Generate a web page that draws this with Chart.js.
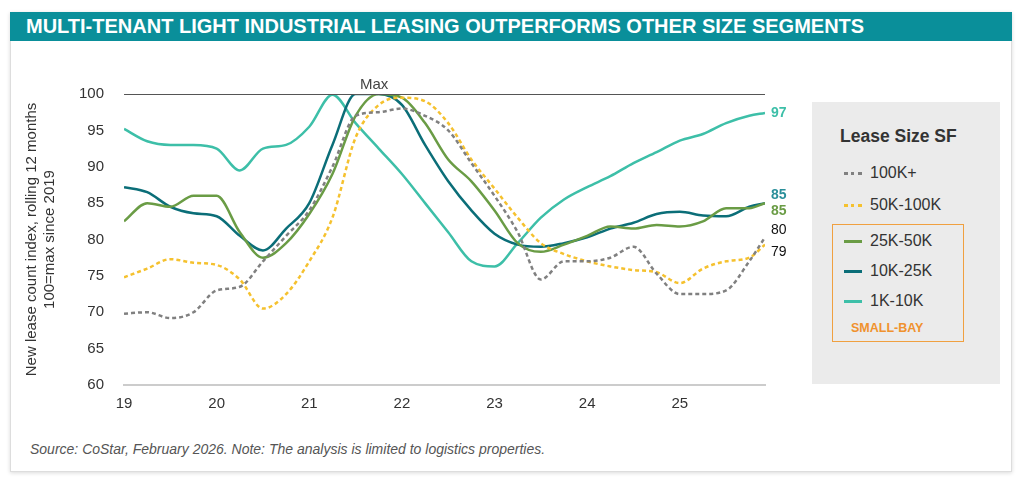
<!DOCTYPE html>
<html lang="en">
<head>
<meta charset="UTF-8">
<title>Multi-tenant leasing</title>
<script src="https://cdn.jsdelivr.net/npm/chart.js"></script>
<style>
    body { margin: 0; width: 1024px; height: 484px; background: #fff; font-family: "Liberation Sans", Arial, sans-serif; position: relative; overflow: hidden; }
    .card { position: absolute; left: 10px; top: 12px; width: 1000px; height: 458px; border: 1px solid #ddd; box-shadow: 0 1px 4px rgba(0,0,0,0.15); }
    .header { position: absolute; left: 10px; top: 12px; width: 1002px; height: 29px; background: #0a8f9a; color: #fff; font-weight: bold; font-size: 20px; line-height: 29px; padding-left: 16px; box-sizing: border-box; }
    .chartbox { position: absolute; left: 15px; top: 60px; width: 790px; height: 357px; }
    .legend { position: absolute; left: 812px; top: 102px; width: 188px; height: 282px; background: #ebebeb; }
    .legend h3 { margin: 0; position: absolute; left: 28px; top: 24px; font-size: 17.5px; font-weight: bold; color: #333; }
    .item { position: absolute; left: 32px; font-size: 16px; color: #333; display: flex; align-items: center; }
    .sw { width: 18px; height: 0; margin-right: 8px; }
    .bay { position: absolute; left: 20px; top: 122px; width: 130px; height: 116px; border: 1.5px solid #f0a040; }
    .bay span { position: absolute; left: 18px; bottom: 6px; color: #f0922e; font-weight: bold; font-size: 12.5px; }
    .source { position: absolute; left: 30px; top: 441px; font-size: 14px; font-style: italic; color: #555; }
</style>
</head>
<body>
<div class="card"></div>
<div class="header">MULTI-TENANT LIGHT INDUSTRIAL LEASING OUTPERFORMS OTHER SIZE SEGMENTS</div>
<div class="chartbox"><canvas id="c"></canvas></div>
<div class="legend">
    <h3>Lease Size SF</h3>
    <div class="item" style="top:62px"><span class="sw" style="border-top:3px dotted #808080"></span>100K+</div>
    <div class="item" style="top:94px"><span class="sw" style="border-top:3px dotted #f5c12e"></span>50K-100K</div>
    <div class="bay"><span>SMALL-BAY</span></div>
    <div class="item" style="top:130px"><span class="sw" style="border-top:3px solid #6a9c45"></span>25K-50K</div>
    <div class="item" style="top:160px"><span class="sw" style="border-top:3px solid #0b6e78"></span>10K-25K</div>
    <div class="item" style="top:190px"><span class="sw" style="border-top:3px solid #3dbfa8"></span>1K-10K</div>
</div>
<div class="source">Source: CoStar, February 2026. Note: The analysis is limited to logistics properties.</div>
<script>
const years = [19, 19.25, 19.5, 19.75, 20, 20.25, 20.5, 20.75, 21, 21.25, 21.5, 21.75, 22, 22.25, 22.5, 22.75, 23, 23.25, 23.5, 23.75, 24, 24.25, 24.5, 24.75, 25, 25.25, 25.5, 25.75, 25.92];
const k100plus = [69.8, 70, 69.2, 70, 73, 73.5, 77, 80.5, 84, 90, 97, 97.5, 98, 97, 95, 90.5, 86, 81, 74.5, 77, 77, 77.5, 79, 75.3, 72.5, 72.5, 73, 77, 80.3];
const k50to100 = [74.8, 76, 77.3, 76.8, 76.5, 74.5, 70.5, 72.5, 77, 83, 94, 98.5, 99.5, 99, 96, 91, 87, 83, 79.5, 78, 77, 76.3, 75.8, 75.5, 74, 76, 77, 77.5, 79.3];
const k25to50 = [82.5, 85, 84.5, 86, 86, 81, 77.5, 79.5, 83.5, 89, 97, 100, 99.5, 96, 91, 88, 84, 79.5, 78.3, 79.3, 80.5, 81.8, 81.5, 82, 81.8, 82.5, 84.3, 84.3, 85];
const k10to25 = [87.2, 86.5, 84.5, 83.6, 83.2, 80.5, 78.5, 81.5, 85, 93, 100, 100, 98.5, 93, 88, 84, 80.8, 79.3, 79, 79.5, 80.3, 81.5, 82.3, 83.5, 83.8, 83.3, 83.2, 84.5, 85];
const k1to10 = [95.2, 93.5, 93, 93, 92.5, 89.5, 92.5, 93, 95.5, 99.9, 96, 92.5, 89, 85, 81, 77, 76.3, 79.5, 83, 85.5, 87.2, 88.7, 90.5, 92, 93.6, 94.5, 96, 97, 97.4];
const yTicks = [60, 65, 70, 75, 80, 85, 90, 95, 100];
const xTicks = [19, 20, 21, 22, 23, 24, 25];

function series(vals, color, dash, endColor) {
    return {
        data: years.map((x, i) => ({x: x, y: vals[i]})),
        borderColor: color, borderWidth: 2.5, borderDash: dash,
        pointRadius: 0, tension: 0.4, cubicInterpolationMode: 'monotone', endColor: endColor
    };
}

const endLabels = {
    id: 'endLabels',
    afterDatasetsDraw(chart) {
        const c = chart.ctx;
        c.save();
        c.textBaseline = 'middle';
        chart.data.datasets.forEach((ds, i) => {
            if (!ds.endColor) return;
            const p = chart.getDatasetMeta(i).data[years.length - 1];
            const v = ds.data[years.length - 1].y;
            c.fillStyle = ds.endColor;
            c.font = ds.endBold ? 'bold 14px "Liberation Sans", Arial' : '14px "Liberation Sans", Arial';
            c.fillText(Math.round(v), p.x + 6, p.y + (ds.labelOff || 0));
        });
        const xs = chart.scales.x, ys = chart.scales.y;
        c.fillStyle = '#444';
        c.font = '15px "Liberation Sans", Arial';
        c.textAlign = 'center';
        c.textBaseline = 'bottom';
        c.fillText('Max', xs.getPixelForValue(21.7), ys.getPixelForValue(100) - 2);
        c.restore();
    }
};

const d100 = series(k100plus, '#808080', [4, 3], '#111'); d100.labelOff = -7;
const d50 = series(k50to100, '#f5c12e', [4, 3], '#111'); d50.labelOff = 8;
const d25 = series(k25to50, '#6a9c45', [], '#6a9c45'); d25.labelOff = 8; d25.endBold = true;
const d10 = series(k10to25, '#0b6e78', [], '#2a8f9a'); d10.labelOff = -8; d10.endBold = true;
const d1 = series(k1to10, '#3dbfa8', [], '#3dbfa8'); d1.endBold = true;
const maxLine = { data: [{x: 19, y: 100}, {x: 25.92, y: 100}], borderColor: '#555', borderWidth: 2, pointRadius: 0 };

new Chart(document.getElementById('c'), {
    type: 'line',
    data: { datasets: [maxLine, d100, d50, d25, d10, d1] },
    options: {
        responsive: true, maintainAspectRatio: false, animation: false,
        layout: { padding: { top: 34, right: 40, bottom: 0 } },
        plugins: { legend: { display: false }, tooltip: { enabled: false } },
        scales: {
            x: {
                type: 'linear', min: 19, max: 25.92,
                afterBuildTicks: s => { s.ticks = xTicks.map(v => ({value: v})); },
                grid: { display: false, drawTicks: true, tickLength: 6, tickColor: '#ccc' },
                border: { color: '#ccc', width: 2 },
                ticks: { color: '#333', font: { size: 15, family: '"Liberation Sans", Arial' }, padding: 4 }
            },
            y: {
                min: 60, max: 100,
                afterBuildTicks: s => { s.ticks = yTicks.map(v => ({value: v})); },
                grid: { display: false },
                border: { display: false },
                ticks: { color: '#333', font: { size: 15, family: '"Liberation Sans", Arial' }, padding: 12 },
                title: { display: true, text: ['New lease count index, rolling 12 months', '100=max since 2019'], color: '#333', font: { size: 15, family: '"Liberation Sans", Arial' }, padding: 8 }
            }
        }
    },
    plugins: [endLabels]
});
</script>
</body>
</html>
